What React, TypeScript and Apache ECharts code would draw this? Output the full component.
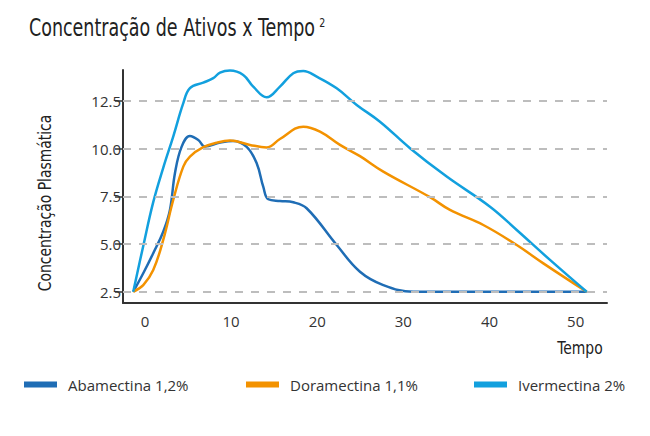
import React, { useEffect, useRef } from 'react';
import * as echarts from 'echarts';

const seriesNames = ['Abamectina 1,2%', 'Doramectina 1,1%', 'Ivermectina 2%'];
const seriesColors = ['#1f6db5', '#f39200', '#12a0de'];
const xTickValues = [0, 10, 20, 30, 40, 50];
const yTickValues = [2.5, 5, 7.5, 10, 12.5];

const abamectina = [
  [-1.36, 2.5], [-0.2, 3.47], [0.96, 4.52], [2.12, 5.65], [2.9, 6.79], [3.48, 8.72],
  [4.26, 10.11], [5.22, 10.67], [6.19, 10.46], [6.97, 10.12], [8.71, 10.32], [10.25, 10.41],
  [11.81, 10.1], [12.97, 9.24], [13.73, 8.01], [14.32, 7.35], [15.67, 7.26], [17.22, 7.19],
  [18.77, 6.88], [22.26, 4.95], [24.96, 3.55], [27.67, 2.85], [31.15, 2.5], [51.28, 2.5],
];

const doramectina = [
  [-1.36, 2.5], [-0.2, 2.85], [0.96, 3.64], [2.12, 5.22], [3.28, 7.31], [4.45, 9.06],
  [5.22, 9.59], [6.77, 10.08], [8.32, 10.32], [9.87, 10.43], [12.19, 10.2], [14.13, 10.07],
  [15.67, 10.51], [18.38, 11.16], [20.32, 10.9], [22.64, 10.2], [24.96, 9.61], [27.67, 8.8],
  [33.09, 7.46], [35.41, 6.79], [39.28, 6.0], [43.16, 4.95], [46.25, 3.99], [51.28, 2.5],
];

const ivermectina = [
  [-1.36, 2.5], [-0.2, 4.9], [0.96, 7.2], [2.12, 9.0], [3.28, 10.64], [4.45, 12.39],
  [5.22, 13.18], [6.77, 13.47], [7.93, 13.7], [8.71, 13.99], [9.87, 14.1], [11.41, 13.87],
  [12.57, 13.26], [14.13, 12.7], [15.67, 13.26], [17.22, 13.96], [18.38, 14.08], [19.94, 13.78],
  [22.26, 13.17], [24.58, 12.3], [27.28, 11.42], [30.77, 10.03], [35.03, 8.54], [40.06, 6.96],
  [43.16, 5.74], [47.02, 4.17], [51.28, 2.5],
];

const seriesData = [abamectina, doramectina, ivermectina];
const legendLefts = [24, 246, 474];

const narrowFont = "'DejaVu Sans Condensed', 'DejaVu Sans', sans-serif";
const labelFont = "'Open Sans', 'Lato', sans-serif";

export default function App() {
  const ref = useRef<HTMLDivElement>(null);

  useEffect(() => {
    if (!ref.current) return;
    const chart = echarts.init(ref.current, undefined, { renderer: 'svg' });
    const axisLineStyle = { color: '#333', width: 2 };
    const option: any = {
      animation: false,
      backgroundColor: '#ffffff',
      grid: { left: 123, right: 43, top: 70, bottom: 133 },
      xAxis: {
        type: 'value',
        min: -2.55,
        max: 53.64,
        axisLine: { show: true, onZero: false, lineStyle: axisLineStyle },
        axisTick: { show: false },
        splitLine: { show: false },
        axisLabel: {
          customValues: xTickValues,
          margin: 10,
          color: '#333',
          fontSize: 15,
          fontFamily: labelFont,
        },
      },
      yAxis: {
        type: 'value',
        min: 1.91,
        max: 14.13,
        axisLine: { show: true, onZero: false, lineStyle: axisLineStyle },
        axisTick: {
          show: true,
          customValues: yTickValues,
          length: 8,
          lineStyle: { color: '#333', width: 1.5 },
        },
        splitLine: { show: false },
        axisLabel: {
          customValues: yTickValues,
          margin: 2,
          color: '#333',
          fontSize: 15,
          fontFamily: labelFont,
          formatter: (v: number) => v.toFixed(1),
        },
      },
      legend: seriesNames.map((name, i) => ({
        data: [name],
        left: legendLefts[i],
        top: 377,
        padding: 0,
        icon: 'rect',
        itemWidth: 33,
        itemHeight: 6,
        selectedMode: false,
        textStyle: {
          color: '#333',
          fontSize: 15,
          fontFamily: labelFont,
          padding: [0, 0, 0, 6],
        },
      })),
      graphic: [
        {
          type: 'text',
          x: 29,
          y: 16,
          scaleX: 0.81,
          style: {
            text: '{m|Concentração de Ativos x Tempo}{s|2}',
            rich: {
              m: { fontSize: 24, fontFamily: narrowFont, fill: '#222' },
              s: { fontSize: 13, fontFamily: narrowFont, fill: '#222', verticalAlign: 'top', padding: [0, 0, 0, 5] },
            },
          },
        },
        {
          type: 'text',
          x: 45,
          y: 203,
          rotation: Math.PI / 2,
          scaleX: 0.86,
          style: {
            text: 'Concentração Plasmática',
            fontSize: 18,
            fontFamily: narrowFont,
            fill: '#222',
            align: 'center',
            verticalAlign: 'middle',
          },
        },
        {
          type: 'text',
          x: 580,
          y: 348,
          scaleX: 0.86,
          style: {
            text: 'Tempo',
            fontSize: 18,
            fontFamily: narrowFont,
            fill: '#222',
            align: 'center',
            verticalAlign: 'middle',
          },
        },
      ],
      series: [
        {
          type: 'line',
          name: '__grid',
          data: [],
          z: 1,
          silent: true,
          markLine: {
            silent: true,
            symbol: ['none', 'none'],
            label: { show: false },
            lineStyle: { type: [8, 8], color: '#bdbdbd', width: 2 },
            data: yTickValues.map((v) => ({ yAxis: v })),
          },
        },
        ...seriesNames.map((name, i) => ({
          type: 'line',
          name,
          data: seriesData[i],
          z: 3,
          smooth: 0.4,
          showSymbol: false,
          symbol: 'none',
          color: seriesColors[i],
          lineStyle: { color: seriesColors[i], width: 2.5 },
        })),
      ],
    };
    chart.setOption(option);
    return () => chart.dispose();
  }, []);

  return <div ref={ref} style={{ width: 650, height: 436, position: 'absolute', left: 0, top: 0 }} />;
}
